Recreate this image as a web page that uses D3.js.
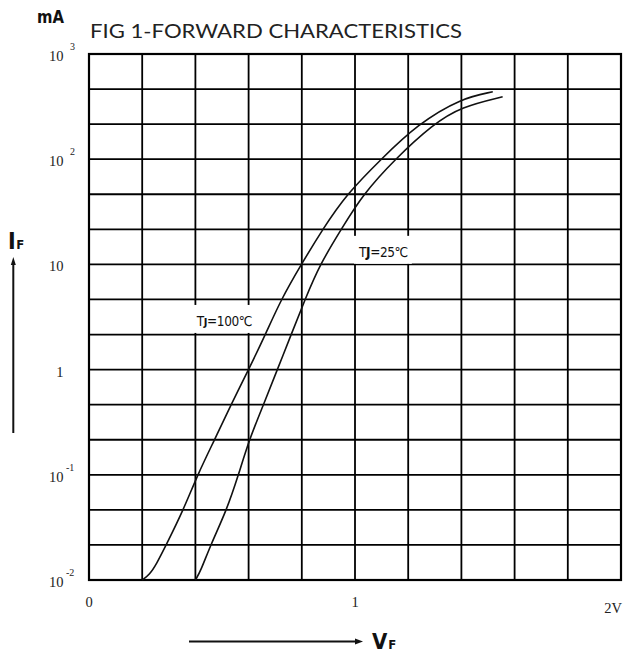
<!DOCTYPE html>
<html>
<head>
<meta charset="utf-8">
<script src="https://cdn.jsdelivr.net/npm/d3@7"></script>
<style>
  html, body { margin: 0; padding: 0; background: #fff; }
  svg { display: block; }
</style>
</head>
<body>
<svg id="chart" width="623" height="655"></svg>
<script>
// ---- data ----
const xTickValues = [0, 1, 2];
const xTickLabels = ["0", "1", "2V"];
const yTickValues = [1e-2, 1e-1, 1, 10, 1e2, 1e3];
const yTickBase = ["10", "10", "1", "10", "10", "10"];
const yTickExp = ["-2", "-1", "", "", "2", "3"];

// Tj = 100 °C curve (VF in V, IF in mA)
const vf100 = [0.20, 0.228, 0.253, 0.29, 0.355, 0.408, 0.472, 0.534, 0.60, 0.663, 0.722, 0.798, 0.878, 0.968, 1.098, 1.235, 1.40, 1.518];
const if100 = [0.01, 0.0113, 0.0141, 0.0215, 0.0464, 0.1, 0.215, 0.464, 1, 2.15, 4.64, 10, 21.5, 46.4, 100, 215, 381, 437];
// Tj = 25 °C curve
const vf25 = [0.40, 0.42, 0.457, 0.518, 0.562, 0.602, 0.656, 0.708, 0.76, 0.812, 0.868, 0.948, 1.03, 1.15, 1.293, 1.40, 1.555];
const if25 = [0.01, 0.0122, 0.0215, 0.0464, 0.1, 0.215, 0.464, 1, 2.15, 4.64, 10, 21.5, 46.4, 100, 215, 315, 392];

const curveLabels = ["100", "25"];
const labelV = [0.405, 1.015];
const labelI = [2.6, 11.8];

// ---- drawing ----
const svg = d3.select("#chart");
const x = d3.scaleLinear().domain([0, 2]).range([89, 621]);
const y = d3.scaleLog().domain([0.01, 1000]).range([580, 54]);

const grid = svg.append("g").attr("stroke", "#000").attr("stroke-width", 1.8);
grid.selectAll("line.v").data(d3.range(11).map(i => i * 0.2)).join("line")
  .attr("class", "v")
  .attr("x1", d => x(d)).attr("x2", d => x(d))
  .attr("y1", y(1000)).attr("y2", y(0.01));
grid.selectAll("line.h").data(d3.range(16).map(k => Math.pow(10, -2 + k / 3))).join("line")
  .attr("class", "h")
  .attr("x1", x(0)).attr("x2", x(2))
  .attr("y1", d => y(d)).attr("y2", d => y(d));
svg.append("rect")
  .attr("x", x(0)).attr("y", y(1000))
  .attr("width", x(2) - x(0)).attr("height", y(0.01) - y(1000))
  .attr("fill", "none").attr("stroke", "#000").attr("stroke-width", 2.2);

// curves
const line = d3.line().x(d => x(d[0])).y(d => y(d[1])).curve(d3.curveBasis);
const curves = [d3.zip(vf100, if100), d3.zip(vf25, if25)];
svg.append("g").selectAll("path").data(curves).join("path")
  .attr("d", line)
  .attr("fill", "none").attr("stroke", "#111").attr("stroke-width", 1.6);

// curve labels with white backing
const labG = svg.append("g");
curveLabels.forEach((t, i) => {
  const g = labG.append("g");
  const bg = g.append("rect").attr("fill", "#fff");
  const txt = g.append("text")
    .attr("x", x(labelV[i])).attr("y", y(labelI[i]))
    .attr("font-family", "'DejaVu Sans Condensed', 'DejaVu Sans', sans-serif")
    .attr("font-size", 13.5).attr("fill", "#111").attr("letter-spacing", -0.4);
  txt.append("tspan").text("T");
  txt.append("tspan").attr("font-size", i === 0 ? 11 : 13.5).attr("font-weight", "bold").text("J");
  txt.append("tspan").text("=" + t + "\u2103");
  const b = txt.node().getBBox();
  bg.attr("x", b.x - 4).attr("y", b.y - 8).attr("width", b.width + 8).attr("height", b.height + 12);
});

// y tick labels
const serif = "'Liberation Serif', 'DejaVu Serif', serif";
const yl = svg.append("g").attr("font-family", serif).attr("fill", "#222");
yl.selectAll("text.base").data(yTickValues).join("text")
  .attr("class", "base")
  .attr("x", 63.5).attr("y", d => y(d) + 7)
  .attr("text-anchor", "end").attr("font-size", 14.5)
  .text((d, i) => yTickBase[i]);
yl.selectAll("text.exp").data(yTickValues).join("text")
  .attr("class", "exp")
  .attr("x", (d, i) => yTickExp[i].startsWith("-") ? 66 : 70)
  .attr("y", d => y(d) - 4)
  .attr("font-size", 10)
  .text((d, i) => yTickExp[i]);

// x tick labels
svg.append("g").attr("font-family", serif).attr("fill", "#222")
  .selectAll("text").data(xTickValues).join("text")
  .attr("x", (d, i) => i === xTickValues.length - 1 ? x(d) + 1 : x(d))
  .attr("y", (d, i) => i === xTickValues.length - 1 ? 612.5 : 607)
  .attr("text-anchor", (d, i) => i === xTickValues.length - 1 ? "end" : "middle")
  .attr("font-size", 14.5)
  .text((d, i) => xTickLabels[i]);

// title
svg.append("text").attr("x", 90).attr("y", 38)
  .attr("font-family", "Lato, 'Open Sans', sans-serif").attr("font-size", 18.5)
  .attr("fill", "#222")
  .attr("textLength", 372).attr("lengthAdjust", "spacingAndGlyphs")
  .text("FIG 1-FORWARD CHARACTERISTICS");

// unit
const bold = "'DejaVu Sans Condensed', 'Liberation Sans Narrow', sans-serif";
svg.append("text").attr("x", 37).attr("y", 23)
  .attr("font-family", bold).attr("font-weight", "bold").attr("font-size", 17)
  .attr("textLength", 27).attr("lengthAdjust", "spacingAndGlyphs")
  .attr("fill", "#111").text("mA");

// IF axis label + arrow
const ifT = svg.append("text").attr("x", 8).attr("y", 249)
  .attr("font-family", bold).attr("font-weight", "bold").attr("fill", "#111");
ifT.append("tspan").attr("font-size", 23).text("I");
ifT.append("tspan").attr("font-size", 13).attr("dx", 0.5).text("F");
svg.append("line").attr("x1", 13.3).attr("x2", 13.3).attr("y1", 433).attr("y2", 263)
  .attr("stroke", "#111").attr("stroke-width", 2);
svg.append("path").attr("d", "M13.3,257 L10.8,265 L15.8,265 Z").attr("fill", "#111");

// VF axis label + arrow
svg.append("line").attr("x1", 189).attr("x2", 356).attr("y1", 641.5).attr("y2", 641.5)
  .attr("stroke", "#111").attr("stroke-width", 2);
svg.append("path").attr("d", "M363,641.5 L355,638.5 L355,644.5 Z").attr("fill", "#111");
const vfT = svg.append("text").attr("x", 372).attr("y", 648.5)
  .attr("font-family", bold).attr("font-weight", "bold").attr("fill", "#111");
vfT.append("tspan").attr("font-size", 22).text("V");
vfT.append("tspan").attr("font-size", 13).attr("dx", 1).text("F");
</script>
</body>
</html>
